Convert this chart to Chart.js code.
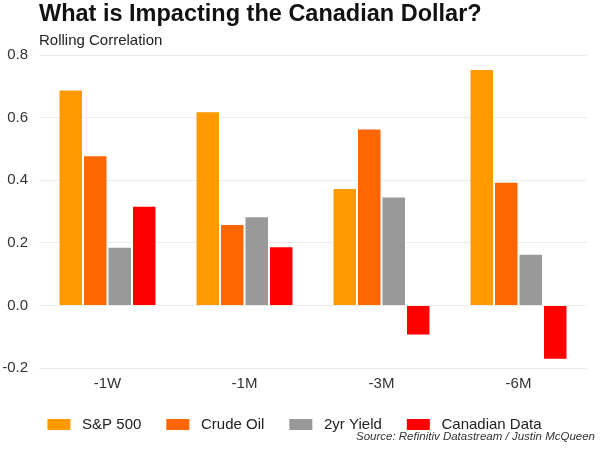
<!DOCTYPE html>
<html>
<head>
<meta charset="utf-8">
<script src="https://cdn.jsdelivr.net/npm/chart.js@4.4.1/dist/chart.umd.min.js"></script>
<style>
  html, body { margin: 0; padding: 0; background: #fff; }
  #wrap { width: 602px; height: 450px; position: relative; }
</style>
</head>
<body>
<div id="wrap"><canvas id="chart"></canvas></div>
<script>
// data
const periods = ["-1W", "-1M", "-3M", "-6M"]
const seriesNames = ["S&P 500", "Crude Oil", "2yr Yield", "Canadian Data"]
const spx = [0.69, 0.62, 0.375, 0.755]
const crude = [0.48, 0.26, 0.565, 0.395]
const yield2y = [0.187, 0.285, 0.348, 0.165]
const canData = [0.318, 0.189, -0.096, -0.174]
const yTicks = [-0.2, 0.0, 0.2, 0.4, 0.6, 0.8]

const titleText = "What is Impacting the Canadian Dollar?"
const subtitleText = "Rolling Correlation"
const sourceText = "Source: Refinitiv Datastream / Justin McQueen"

const colors = ["#ff9900", "#ff6600", "#999999", "#ff0000"]
const FONT = '"Liberation Sans", Arial, sans-serif'

const textPlugin = {
  id: "texts",
  afterDraw(chart) {
    const ctx = chart.ctx
    ctx.save()
    ctx.textBaseline = "alphabetic"
    ctx.textAlign = "left"
    ctx.fillStyle = "#111"
    ctx.font = "bold 23.5px " + FONT
    ctx.fillText(titleText, 39, 21)
    ctx.fillStyle = "#222"
    ctx.font = "15px " + FONT
    ctx.fillText(subtitleText, 39, 45)
    ctx.textAlign = "right"
    ctx.fillStyle = "#333"
    ctx.font = "italic 11.5px " + FONT
    ctx.fillText(sourceText, 595, 440)
    ctx.restore()
  },
}

const seriesData = [spx, crude, yield2y, canData]
const data = {
  labels: periods,
  datasets: seriesNames.map((name, i) => ({
    label: name,
    data: seriesData[i],
    backgroundColor: colors[i],
    borderColor: "rgba(255,255,255,0.7)",
    borderWidth: 1,
    categoryPercentage: 0.715,
    barPercentage: 1.0,
  })),
}

const config = {
  type: "bar",
  data: data,
  plugins: [textPlugin],
  options: {
    responsive: true,
    maintainAspectRatio: false,
    animation: false,
    layout: {
      padding: { top: 55, left: 2, right: 15, bottom: 8 },
    },
    plugins: {
      title: { display: false },
      tooltip: { enabled: false },
      legend: {
        position: "bottom",
        labels: {
          boxWidth: 23,
          boxHeight: 11,
          padding: 25,
          color: "#222",
          font: { family: FONT, size: 15 },
          generateLabels: (chart) =>
            Chart.defaults.plugins.legend.labels.generateLabels(chart).map((l) => {
              l.text = " " + l.text
              l.lineWidth = 0
              return l
            }),
        },
      },
    },
    scales: {
      x: {
        grid: { display: false, drawTicks: false },
        border: { display: false },
        afterFit: (axis) => {
          axis.height = 24
        },
        ticks: {
          color: "#333",
          padding: 7,
          font: { family: FONT, size: 15 },
        },
      },
      y: {
        min: yTicks[0],
        max: yTicks[yTicks.length - 1],
        afterBuildTicks: (axis) => {
          axis.ticks = yTicks.map((v) => ({ value: v }))
        },
        afterFit: (axis) => {
          axis.width = 37
        },
        grid: { color: "#ebebeb", lineWidth: 1, drawTicks: false },
        border: { display: false },
        ticks: {
          color: "#333",
          padding: 11,
          font: { family: FONT, size: 15 },
          callback: (val) => Number(val).toFixed(1),
        },
      },
    },
  },
}

new Chart(document.getElementById("chart"), config)
</script>
</body>
</html>
